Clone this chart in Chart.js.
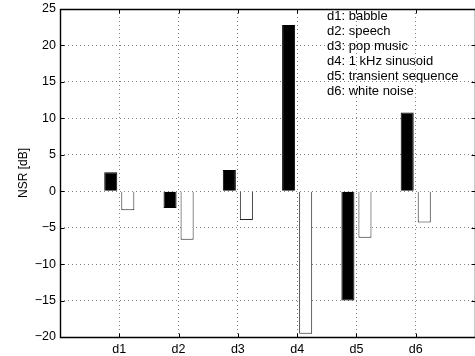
<!DOCTYPE html>
<html>
<head>
<meta charset="utf-8">
<script src="https://cdn.jsdelivr.net/npm/chart.js@4"></script>
<style>
html,body{margin:0;padding:0;overflow:hidden;background:#fff;}
#wrap{width:475px;height:356px;}
</style>
</head>
<body>
<div id="wrap"><canvas id="c" width="475" height="356"></canvas></div>
<script>
const categories = ['', 'd1', 'd2', 'd3', 'd4', 'd5', 'd6', ''];
const seriesBlack = [null, 2.6, -2.3, 2.9, 22.8, -15.0, 10.8, null];
const seriesWhite = [null, -2.6, -6.65, -3.95, -19.55, -6.4, -4.3, null];
const yTicks = [-20, -15, -10, -5, 0, 5, 10, 15, 20, 25];
const legendLines = ['d1: babble', 'd2: speech', 'd3: pop music', 'd4: 1 kHz sinusoid', 'd5: transient sequence', 'd6: white noise'];
const yTitle = 'NSR [dB]';

const FONT = '"Liberation Sans", Arial, Helvetica, sans-serif';

const boxPlugin = {
  id: 'box',
  afterDraw(chart) {
    const ctx = chart.ctx, a = chart.chartArea;
    const xs = chart.scales.x, ys = chart.scales.y;
    ctx.save();
    ctx.strokeStyle = '#000';
    ctx.lineWidth = 1.4;
    const L = Math.round(a.left) + 0.5, R = Math.round(a.right) + 0.5;
    const T = Math.round(a.top) + 0.5, B = Math.round(a.bottom) + 0.5;
    ctx.beginPath();
    ctx.rect(L, T, R - L, B - T);
    ctx.stroke();
    ctx.lineWidth = 1;
    ctx.beginPath();
    const tl = 4;
    yTicks.forEach(v => {
      const p = Math.round(ys.getPixelForValue(v)) + 0.5;
      ctx.moveTo(L, p); ctx.lineTo(L + tl, p);
      ctx.moveTo(R, p); ctx.lineTo(R - tl, p);
    });
    for (let i = 1; i < categories.length - 1; i++) {
      const p = Math.round(xs.getPixelForValue(i)) + 0.5;
      ctx.moveTo(p, B); ctx.lineTo(p, B - tl);
      ctx.moveTo(p, T); ctx.lineTo(p, T + tl);
    }
    ctx.stroke();
    // legend text
    ctx.fillStyle = '#000';
    ctx.font = '13px ' + FONT;
    ctx.textBaseline = 'middle';
    ctx.textAlign = 'left';
    legendLines.forEach((s, i) => ctx.fillText(s, 327, 16.5 + i * 14.9));
    ctx.restore();
  }
};

new Chart(document.getElementById('c'), {
  type: 'bar',
  data: {
    labels: categories,
    datasets: [
      { data: seriesBlack, backgroundColor: '#000', borderColor: '#000', borderWidth: 1 },
      { data: seriesWhite, backgroundColor: '#fff', borderColor: '#222', borderWidth: 1 }
    ]
  },
  options: {
    responsive: false,
    animation: false,
    events: [],
    layout: { padding: { top: 9, right: -1, left: 0, bottom: 0 } },
    datasets: { bar: { categoryPercentage: 0.575, barPercentage: 0.765 } },
    plugins: { legend: { display: false }, tooltip: { enabled: false } },
    scales: {
      x: {
        offset: false,
        grid: {
          offset: false,
          drawTicks: false,
          color: ctx => (ctx.index === 0 || ctx.index === categories.length - 1) ? 'rgba(0,0,0,0)' : 'rgba(0,0,0,0.5)'
        },
        border: { display: false, dash: [1, 3] },
        ticks: { color: '#000', font: { family: FONT, size: 12.5 }, padding: 5, autoSkip: false, maxRotation: 0 },
        afterFit(s) { s.height = 19; s.paddingLeft = 0; s.paddingRight = 0; }
      },
      y: {
        min: -20, max: 25,
        afterBuildTicks(s) { s.ticks = yTicks.map(v => ({ value: v })); },
        grid: {
          drawTicks: false,
          color: ctx => (ctx.tick && (ctx.tick.value === -20 || ctx.tick.value === 25)) ? 'rgba(0,0,0,0)' : 'rgba(0,0,0,0.5)'
        },
        border: { display: false, dash: [1, 3] },
        ticks: {
          color: '#000', font: { family: FONT, size: 12.5 }, padding: 4,
          callback: v => String(v).replace('-', '\u2212')
        },
        title: { display: true, text: yTitle, color: '#000', font: { family: FONT, size: 12 }, padding: { top: 16, bottom: 0 } },
        afterFit(s) { s.width = 60; s.paddingTop = 0; s.paddingBottom = 0; }
      }
    }
  },
  plugins: [boxPlugin]
});
</script>
</body>
</html>
